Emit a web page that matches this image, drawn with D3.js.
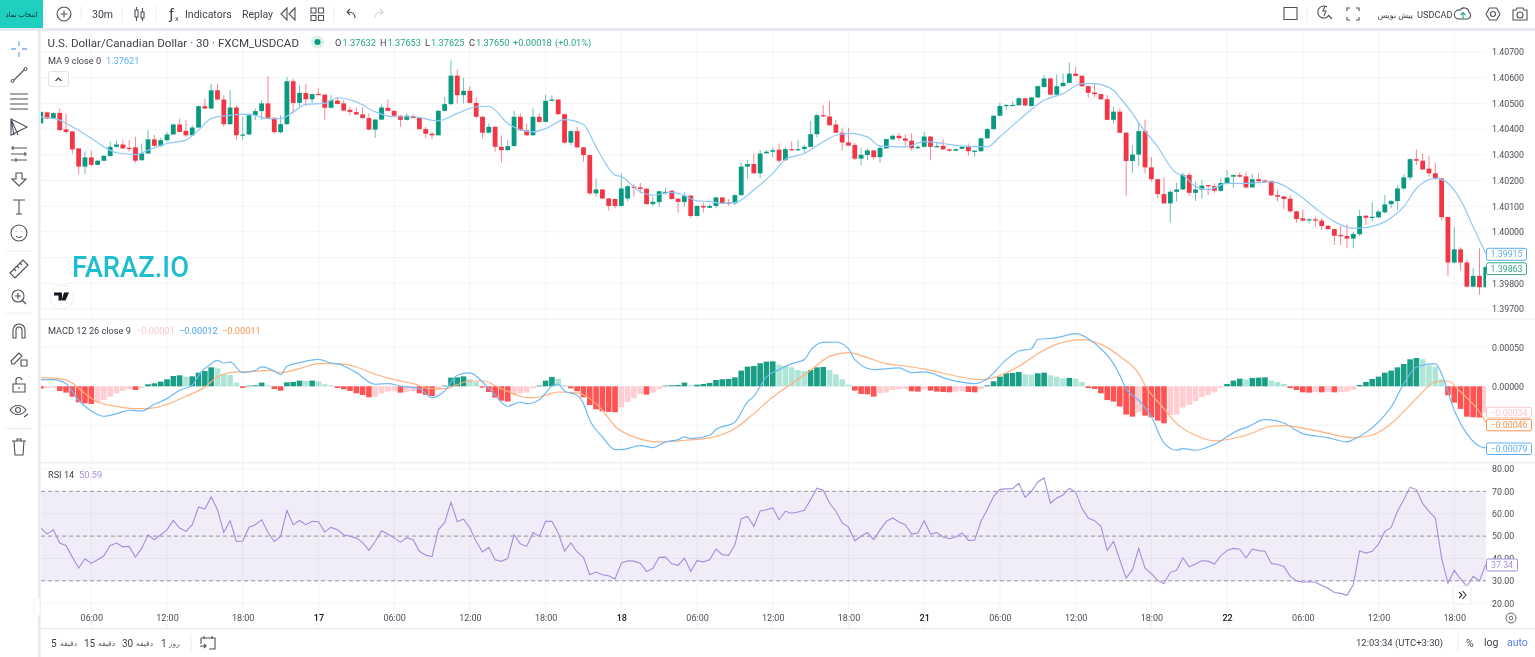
<!DOCTYPE html>
<html><head><meta charset="utf-8">
<script src="https://cdn.jsdelivr.net/npm/d3@7/dist/d3.min.js"></script>
<style>
html,body{margin:0;padding:0;background:#fff;overflow:hidden}
svg{display:block;filter:blur(0.35px)}
text{font-family:Roboto,"DejaVu Sans",sans-serif}
</style></head><body>
<svg id="chart" width="1535" height="657"></svg>
<script>
const opens=[1.40422,1.40465,1.40442,1.40463,1.40399,1.40391,1.40325,1.40254,1.40290,1.40261,1.40277,1.40295,1.40331,1.40340,1.40327,1.40329,1.40279,1.40305,1.40360,1.40335,1.40357,1.40379,1.40418,1.40393,1.40376,1.40406,1.40489,1.40480,1.40551,1.40515,1.40419,1.40484,1.40376,1.40379,1.40454,1.40470,1.40500,1.40444,1.40388,1.40419,1.40586,1.40502,1.40540,1.40516,1.40537,1.40534,1.40483,1.40511,1.40500,1.40475,1.40466,1.40457,1.40443,1.40398,1.40437,1.40483,1.40471,1.40452,1.40436,1.40450,1.40443,1.40400,1.40382,1.40376,1.40471,1.40497,1.40608,1.40532,1.40549,1.40502,1.40448,1.40386,1.40409,1.40331,1.40318,1.40334,1.40448,1.40395,1.40376,1.40448,1.40428,1.40510,1.40515,1.40458,1.40347,1.40392,1.40329,1.40299,1.40150,1.40165,1.40130,1.40128,1.40101,1.40130,1.40176,1.40173,1.40168,1.40108,1.40116,1.40152,1.40160,1.40129,1.40116,1.40141,1.40062,1.40101,1.40094,1.40101,1.40134,1.40114,1.40111,1.40143,1.40254,1.40264,1.40228,1.40306,1.40312,1.40320,1.40279,1.40322,1.40318,1.40323,1.40331,1.40380,1.40454,1.40449,1.40418,1.40386,1.40348,1.40338,1.40285,1.40299,1.40317,1.40291,1.40325,1.40360,1.40374,1.40364,1.40355,1.40326,1.40331,1.40371,1.40330,1.40335,1.40321,1.40316,1.40323,1.40331,1.40314,1.40314,1.40364,1.40400,1.40452,1.40493,1.40492,1.40493,1.40520,1.40490,1.40523,1.40564,1.40597,1.40534,1.40567,1.40580,1.40616,1.40607,1.40567,1.40542,1.40536,1.40516,1.40436,1.40468,1.40386,1.40276,1.40301,1.40392,1.40251,1.40205,1.40147,1.40111,1.40156,1.40165,1.40222,1.40152,1.40165,1.40182,1.40178,1.40160,1.40190,1.40215,1.40221,1.40216,1.40173,1.40205,1.40200,1.40198,1.40143,1.40138,1.40129,1.40080,1.40053,1.40046,1.40049,1.40044,1.40024,1.40011,1.39988,1.39984,1.39974,1.39991,1.40063,1.40055,1.40057,1.40076,1.40108,1.40120,1.40169,1.40212,1.40283,1.40277,1.40246,1.40228,1.40208,1.40058,1.39881,1.39932,1.39881,1.39787,1.39829,1.39785];
const highs=[1.40467,1.40468,1.40466,1.40480,1.40461,1.40391,1.40325,1.40312,1.40316,1.40280,1.40299,1.40351,1.40355,1.40357,1.40357,1.40370,1.40344,1.40396,1.40377,1.40367,1.40389,1.40422,1.40441,1.40435,1.40415,1.40492,1.40519,1.40577,1.40577,1.40532,1.40551,1.40493,1.40448,1.40456,1.40480,1.40512,1.40606,1.40446,1.40454,1.40603,1.40594,1.40571,1.40577,1.40538,1.40558,1.40536,1.40532,1.40525,1.40512,1.40487,1.40484,1.40484,1.40461,1.40439,1.40496,1.40515,1.40473,1.40454,1.40461,1.40458,1.40445,1.40409,1.40389,1.40474,1.40525,1.40668,1.40632,1.40600,1.40567,1.40523,1.40450,1.40422,1.40411,1.40376,1.40357,1.40471,1.40461,1.40422,1.40480,1.40461,1.40534,1.40532,1.40517,1.40460,1.40396,1.40409,1.40331,1.40301,1.40208,1.40167,1.40132,1.40130,1.40228,1.40182,1.40186,1.40191,1.40170,1.40137,1.40160,1.40173,1.40163,1.40131,1.40154,1.40143,1.40103,1.40114,1.40108,1.40137,1.40136,1.40127,1.40146,1.40269,1.40279,1.40305,1.40318,1.40318,1.40327,1.40344,1.40331,1.40351,1.40357,1.40338,1.40432,1.40461,1.40493,1.40509,1.40435,1.40405,1.40405,1.40347,1.40325,1.40325,1.40318,1.40338,1.40363,1.40379,1.40386,1.40379,1.40383,1.40338,1.40389,1.40373,1.40351,1.40360,1.40325,1.40325,1.40335,1.40344,1.40318,1.40366,1.40405,1.40454,1.40502,1.40496,1.40506,1.40525,1.40522,1.40525,1.40569,1.40611,1.40601,1.40613,1.40616,1.40659,1.40642,1.40611,1.40569,1.40577,1.40538,1.40532,1.40487,1.40480,1.40389,1.40338,1.40428,1.40437,1.40292,1.40207,1.40212,1.40163,1.40191,1.40230,1.40231,1.40195,1.40202,1.40184,1.40189,1.40208,1.40241,1.40225,1.40231,1.40234,1.40225,1.40228,1.40204,1.40200,1.40163,1.40140,1.40143,1.40082,1.40085,1.40053,1.40059,1.40053,1.40026,1.40014,1.40023,1.40029,1.40001,1.40085,1.40065,1.40115,1.40085,1.40143,1.40124,1.40182,1.40224,1.40286,1.40321,1.40305,1.40296,1.40269,1.40210,1.40060,1.40018,1.39940,1.39893,1.39859,1.39936,1.39866];
const lows=[1.40420,1.40439,1.40440,1.40393,1.40383,1.40303,1.40225,1.40225,1.40257,1.40259,1.40275,1.40293,1.40329,1.40322,1.40312,1.40269,1.40277,1.40303,1.40331,1.40329,1.40351,1.40377,1.40387,1.40370,1.40374,1.40404,1.40478,1.40478,1.40513,1.40409,1.40417,1.40357,1.40357,1.40377,1.40435,1.40435,1.40442,1.40383,1.40383,1.40417,1.40461,1.40487,1.40489,1.40500,1.40532,1.40437,1.40481,1.40496,1.40470,1.40454,1.40455,1.40441,1.40396,1.40367,1.40435,1.40469,1.40448,1.40409,1.40434,1.40441,1.40398,1.40364,1.40360,1.40374,1.40469,1.40495,1.40500,1.40500,1.40500,1.40441,1.40364,1.40384,1.40312,1.40270,1.40316,1.40332,1.40393,1.40374,1.40374,1.40426,1.40426,1.40508,1.40456,1.40344,1.40338,1.40325,1.40273,1.40143,1.40137,1.40127,1.40083,1.40092,1.40099,1.40118,1.40137,1.40150,1.40106,1.40101,1.40098,1.40143,1.40126,1.40075,1.40098,1.40054,1.40060,1.40075,1.40092,1.40092,1.40109,1.40101,1.40105,1.40141,1.40208,1.40226,1.40208,1.40304,1.40290,1.40269,1.40277,1.40316,1.40316,1.40308,1.40329,1.40367,1.40447,1.40413,1.40384,1.40316,1.40334,1.40279,1.40260,1.40279,1.40282,1.40269,1.40323,1.40355,1.40355,1.40331,1.40316,1.40321,1.40329,1.40279,1.40328,1.40319,1.40312,1.40314,1.40321,1.40296,1.40292,1.40312,1.40362,1.40398,1.40450,1.40474,1.40490,1.40491,1.40490,1.40488,1.40521,1.40562,1.40532,1.40532,1.40565,1.40578,1.40605,1.40565,1.40522,1.40525,1.40514,1.40434,1.40422,1.40383,1.40140,1.40230,1.40256,1.40228,1.40195,1.40130,1.40109,1.40036,1.40118,1.40163,1.40140,1.40120,1.40130,1.40143,1.40152,1.40156,1.40186,1.40172,1.40211,1.40169,1.40172,1.40191,1.40193,1.40140,1.40118,1.40089,1.40076,1.40036,1.40040,1.40033,1.40020,1.40007,1.40009,1.39949,1.39949,1.39936,1.39936,1.39984,1.40027,1.40040,1.40053,1.40072,1.40092,1.40085,1.40165,1.40202,1.40260,1.40241,1.40215,1.40202,1.40044,1.39829,1.39878,1.39849,1.39784,1.39784,1.39755,1.39783];
const closes=[1.40467,1.40441,1.40462,1.40396,1.40389,1.40321,1.40254,1.40290,1.40261,1.40277,1.40296,1.40331,1.40340,1.40325,1.40323,1.40277,1.40305,1.40360,1.40335,1.40357,1.40379,1.40418,1.40389,1.40376,1.40406,1.40489,1.40480,1.40551,1.40515,1.40419,1.40484,1.40376,1.40379,1.40454,1.40470,1.40500,1.40444,1.40388,1.40419,1.40586,1.40502,1.40541,1.40516,1.40536,1.40534,1.40483,1.40512,1.40498,1.40472,1.40467,1.40457,1.40443,1.40398,1.40437,1.40484,1.40471,1.40452,1.40436,1.40452,1.40443,1.40400,1.40382,1.40376,1.40471,1.40497,1.40608,1.40532,1.40549,1.40502,1.40448,1.40386,1.40409,1.40331,1.40318,1.40334,1.40448,1.40395,1.40376,1.40448,1.40428,1.40510,1.40515,1.40458,1.40347,1.40392,1.40329,1.40299,1.40150,1.40165,1.40130,1.40101,1.40101,1.40169,1.40178,1.40173,1.40167,1.40108,1.40117,1.40158,1.40156,1.40128,1.40117,1.40141,1.40062,1.40101,1.40095,1.40101,1.40134,1.40111,1.40110,1.40143,1.40254,1.40264,1.40228,1.40305,1.40312,1.40318,1.40277,1.40322,1.40318,1.40322,1.40331,1.40380,1.40454,1.40449,1.40415,1.40386,1.40348,1.40336,1.40285,1.40300,1.40317,1.40291,1.40327,1.40361,1.40374,1.40365,1.40355,1.40326,1.40331,1.40371,1.40331,1.40334,1.40321,1.40316,1.40322,1.40331,1.40314,1.40316,1.40364,1.40400,1.40452,1.40490,1.40494,1.40494,1.40520,1.40492,1.40523,1.40567,1.40597,1.40534,1.40567,1.40580,1.40616,1.40607,1.40567,1.40541,1.40536,1.40516,1.40436,1.40468,1.40386,1.40276,1.40301,1.40392,1.40251,1.40205,1.40147,1.40111,1.40156,1.40165,1.40222,1.40152,1.40165,1.40180,1.40178,1.40160,1.40190,1.40211,1.40221,1.40215,1.40173,1.40205,1.40197,1.40195,1.40142,1.40137,1.40128,1.40080,1.40050,1.40044,1.40049,1.40044,1.40023,1.40011,1.39985,1.39983,1.39974,1.39992,1.40062,1.40055,1.40059,1.40079,1.40107,1.40120,1.40169,1.40212,1.40283,1.40277,1.40243,1.40228,1.40208,1.40057,1.39881,1.39932,1.39881,1.39787,1.39829,1.39785,1.39863];
const maBars=[0,3,5,8,10,12,15,17,20,23,25,27,30,33,36,38,40,42,45,47,50,53,56,59,63,66,69,71,74,78,80,83,86,88,91,92,95,97,100,102,104,106,108,110,113,116,118,121,124,126,128,131,133,137,140,143,146,150,152,155,159,162,165,167,170,171,173,174,177,180,181,183,185,188,191,195,199,202,205,208,210,213,216,218,221,223,225,227,229];
const maValues=[1.40448,1.40435,1.40409,1.40364,1.40331,1.40308,1.40301,1.40318,1.40344,1.40357,1.40396,1.40441,1.40454,1.40458,1.40441,1.40441,1.40467,1.40496,1.40500,1.40522,1.40506,1.40467,1.40448,1.40448,1.40432,1.40461,1.40487,1.40489,1.40422,1.40389,1.40402,1.40437,1.40418,1.40331,1.40221,1.40215,1.40156,1.40143,1.40154,1.40141,1.40121,1.40118,1.40111,1.40114,1.40163,1.40228,1.40282,1.40305,1.40351,1.40376,1.40383,1.40370,1.40334,1.40331,1.40351,1.40344,1.40334,1.40331,1.40370,1.40435,1.40512,1.40538,1.40577,1.40577,1.40551,1.40523,1.40461,1.40424,1.40331,1.40228,1.40221,1.40176,1.40165,1.40189,1.40189,1.40195,1.40150,1.40092,1.40040,1.40014,1.40017,1.40040,1.40098,1.40169,1.40208,1.40189,1.40124,1.40020,1.39915];
// MACD pane values are in millionths of a price unit
const histogramMicro=[-30,-26,-17,-60,-81,-132,-205,-218,-226,-209,-175,-132,-90,-60,-38,-47,-21,26,38,60,90,132,141,124,128,175,196,243,231,154,145,47,-21,9,13,47,13,-34,-56,51,56,73,68,73,64,26,13,-21,-38,-60,-90,-111,-141,-137,-90,-68,-64,-81,-73,-64,-90,-111,-124,-47,9,111,115,128,90,56,-17,-73,-145,-184,-196,-98,-90,-81,-26,9,73,120,98,17,-26,-64,-141,-239,-295,-320,-329,-333,-269,-201,-154,-98,-107,-81,-38,9,13,17,47,13,21,30,43,81,90,94,115,201,252,260,295,316,320,278,260,243,209,196,209,243,248,209,154,90,21,-56,-98,-102,-132,-90,-81,-47,-38,-34,-64,-68,-38,-56,-68,-73,-77,-68,-64,-73,-77,-38,13,64,124,167,171,184,154,149,167,175,141,124,102,107,98,56,-21,-34,-90,-175,-196,-260,-363,-389,-329,-376,-397,-440,-474,-367,-363,-273,-239,-188,-141,-111,-77,-17,30,73,98,90,107,111,115,73,56,30,-21,-47,-77,-81,-73,-77,-73,-77,-73,-68,-47,17,56,94,124,175,201,243,286,346,363,346,269,252,90,-115,-209,-290,-389,-397,-401,-337];
const macdBars=[0,2,4,6,8,10,12,14,16,18,20,22,24,25,27,28,29,30,32,34,35,37,38,39,41,44,46,47,50,53,55,57,60,62,64,66,68,70,72,74,76,77,79,80,81,82,83,85,86,87,89,91,92,95,97,99,101,102,103,106,107,110,112,113,115,117,119,121,122,124,126,128,129,132,136,138,140,144,148,150,153,155,157,158,161,164,166,168,170,171,172,174,176,178,180,181,183,186,190,191,194,197,200,204,207,208,212,214,216,218,221,222,224,226,228,229];
const macdMicro=[85,85,34,-179,-316,-384,-350,-307,-316,-231,-158,-51,13,141,290,333,299,312,175,205,248,196,149,256,303,346,299,290,175,26,34,4,-30,-145,-60,141,171,56,-115,-256,-201,-222,-171,-85,4,26,-60,-115,-222,-436,-649,-811,-811,-760,-786,-713,-683,-649,-670,-628,-555,-457,-200,-128,120,214,290,342,461,564,568,482,342,214,235,175,184,85,34,98,342,453,482,600,623,675,611,482,290,141,-30,-179,-393,-726,-820,-798,-820,-743,-555,-529,-427,-470,-606,-658,-713,-683,-457,-265,34,248,290,162,-307,-606,-769,-790];
const signalBars=[0,3,5,7,9,12,15,17,20,23,26,28,31,34,36,38,41,44,47,50,53,56,59,62,64,68,70,73,76,78,80,82,85,87,89,91,94,98,102,106,110,113,116,119,122,125,128,131,134,137,141,145,149,151,155,158,161,165,168,171,174,175,178,180,183,186,191,195,197,203,208,211,214,218,221,223,225,228,229];
const signalMicro=[111,98,43,-94,-201,-256,-286,-286,-231,-128,-9,120,184,192,205,175,226,290,290,248,154,85,34,-30,-30,68,68,-30,-128,-149,-115,-73,-85,-158,-307,-512,-649,-713,-692,-662,-542,-350,-137,34,205,384,431,367,290,260,205,132,85,111,256,418,538,598,538,384,162,13,-286,-478,-628,-700,-628,-512,-504,-585,-658,-628,-478,-158,56,68,-73,-329,-460];
const rsiValues=[53.6,51.0,52.8,46.9,45.8,40.6,35.7,39.9,37.8,39.4,41.2,45.8,46.9,45.2,45.4,40.6,44.6,50.6,48.4,50.6,52.8,57.0,53.6,52.1,55.1,63.0,62.1,67.5,61.8,51.6,56.9,47.6,47.8,54.0,55.1,57.3,51.6,47.6,49.9,61.5,55.1,57.0,55.1,56.6,56.4,51.9,53.9,52.8,50.6,49.9,49.1,47.2,43.6,47.6,52.4,50.9,49.1,47.3,49.3,48.4,43.2,41.5,40.8,52.8,56.1,65.1,56.4,57.6,53.6,47.6,42.9,45.0,39.4,38.7,40.0,50.6,46.6,45.4,51.6,49.9,56.6,56.6,51.4,43.3,46.9,42.9,40.5,32.7,33.9,32.7,32.3,30.8,37.9,39.0,38.8,37.9,34.1,35.6,40.5,40.6,37.6,36.9,40.2,34.2,39.0,38.5,39.4,44.2,41.7,41.4,46.1,57.8,58.8,54.4,61.2,61.8,62.6,57.3,61.1,60.2,60.8,61.5,66.3,71.4,70.5,64.8,61.1,55.9,54.0,47.9,49.9,51.6,48.4,52.8,56.6,58.1,56.3,55.1,50.9,51.4,56.9,50.9,51.6,49.6,48.8,49.6,51.4,48.1,48.2,56.6,61.8,67.8,70.9,71.1,71.2,73.6,67.3,70.0,74.2,76.0,64.7,67.0,68.4,71.4,69.7,62.4,58.1,56.9,54.4,43.6,47.6,39.4,31.2,35.0,44.5,35.7,33.2,30.2,28.7,33.8,34.7,40.3,36.3,37.5,39.0,38.8,37.5,41.2,43.6,44.5,44.1,40.3,44.2,43.5,43.2,37.8,37.3,36.4,32.0,30.0,29.4,29.6,29.4,27.9,26.7,24.8,24.4,23.5,28.2,43.5,42.4,43.2,46.4,52.1,53.9,61.1,66.3,71.8,70.8,64.5,61.1,58.1,40.2,29.0,34.7,30.8,27.5,32.0,30.0,37.34];
const priceTicks=[1.407,1.406,1.405,1.404,1.403,1.402,1.401,1.4,1.399,1.398,1.397];
const priceLabelTicks=[1.407,1.406,1.405,1.404,1.403,1.402,1.401,1.4,1.398,1.397];
const macdTicks=[500,0,-500];
const rsiTicks=[80,70,60,50,40,30,20];
const rsiLevels=[70,50,30];
const timeTickBars=[8,20,32,44,56,68,80,92,104,116,128,140,152,164,176,188,200,212,224];
const timeTickLabels=["06:00","12:00","18:00","17","06:00","12:00","18:00","18","06:00","12:00","18:00","21","06:00","12:00","18:00","22","06:00","12:00","18:00"];

const GREEN="#089981",RED="#f23645",TXT="#4a4d57",GRID="#f3f4f7";
const svg=d3.select("#chart");
const barCount=opens.length;
const x=d3.scaleLinear().domain([0,barCount-1]).range([40.8,1485.8]);
const yPrice=d3.scaleLinear().domain([1.397,1.407]).range([309,52]);
const yMacd=d3.scaleLinear().domain([-500,500]).range([425.3,347.3]);
const yRsi=d3.scaleLinear().domain([20,80]).range([603.2,469]);
const L=41,R=1486;

svg.append("defs").selectAll("clipPath").data([["c1",31,287],["c2",320,142],["c3",464,140]]).join("clipPath")
  .attr("id",d=>d[0]).append("rect").attr("x",L).attr("y",d=>d[1]).attr("width",R-L).attr("height",d=>d[2]);

// separators
const sep=svg.append("g").attr("fill","#e6e8ef");
sep.append("rect").attr("x",0).attr("y",28).attr("width",1535).attr("height",3);
sep.append("rect").attr("x",38).attr("y",31).attr("width",2.5).attr("height",626);
sep.append("rect").attr("x",41).attr("y",318.3).attr("width",1494).attr("height",1.4).attr("fill","#eef0f4");
sep.append("rect").attr("x",41).attr("y",462).attr("width",1494).attr("height",1.6).attr("fill","#eef0f4");
sep.append("rect").attr("x",41).attr("y",628).attr("width",1494).attr("height",1.2);

// grid
const grid=svg.append("g").attr("stroke",GRID).attr("stroke-width",1);
function hGrid(vals,scale){grid.selectAll(null).data(vals).join("line").attr("x1",L).attr("x2",R).attr("y1",d=>scale(d)).attr("y2",d=>scale(d));}
hGrid(priceTicks,yPrice);hGrid(macdTicks,yMacd);hGrid(rsiTicks,yRsi);
grid.selectAll(null).data(timeTickBars).join("line").attr("x1",d=>x(d)).attr("x2",d=>x(d)).attr("y1",31).attr("y2",628);

// main pane
const main=svg.append("g").attr("clip-path","url(#c1)");
const idx=d3.range(barCount);
const up=i=>closes[i]>=opens[i];
main.selectAll("line.w").data(idx).join("line").attr("class","w")
  .attr("x1",x).attr("x2",x).attr("y1",i=>yPrice(highs[i])).attr("y2",i=>yPrice(lows[i]))
  .attr("stroke",i=>up(i)?GREEN:RED).attr("stroke-width",1).attr("opacity",.6);
main.selectAll("rect.b").data(idx).join("rect").attr("class","b")
  .attr("x",i=>x(i)-2.4).attr("width",4.8)
  .attr("y",i=>yPrice(Math.max(opens[i],closes[i])))
  .attr("height",i=>Math.max(1.2,Math.abs(yPrice(opens[i])-yPrice(closes[i]))))
  .attr("fill",i=>up(i)?GREEN:RED);
const smooth=d3.curveMonotoneX;
main.append("path").attr("fill","none").attr("stroke","#90c8f5").attr("stroke-width",1.2)
  .attr("d",d3.line().x((d,i)=>x(maBars[i])).y(d=>yPrice(d)).curve(smooth)(maValues));

// MACD pane
const macd=svg.append("g").attr("clip-path","url(#c2)");
function histColor(i){const v=histogramMicro[i],p=i?histogramMicro[i-1]:0;
  return v>=0?(v>p?"#1a9e85":"#ade5d6"):(v<p?"#ff5252":"#ffcdd2");}
macd.selectAll("rect").data(idx).join("rect")
  .attr("x",i=>x(i)-2.8).attr("width",5.6)
  .attr("y",i=>Math.min(yMacd(0),yMacd(histogramMicro[i])))
  .attr("height",i=>Math.abs(yMacd(0)-yMacd(histogramMicro[i])))
  .attr("fill",histColor);
macd.append("path").attr("fill","none").attr("stroke","#ffb27d").attr("stroke-width",1.2)
  .attr("d",d3.line().x((d,i)=>x(signalBars[i])).y(d=>yMacd(d)).curve(smooth)(signalMicro));
macd.append("path").attr("fill","none").attr("stroke","#6fb9f5").attr("stroke-width",1.2)
  .attr("d",d3.line().x((d,i)=>x(macdBars[i])).y(d=>yMacd(d)).curve(smooth)(macdMicro));

// RSI pane
const rsi=svg.append("g").attr("clip-path","url(#c3)");
rsi.append("rect").attr("x",L).attr("width",R-L).attr("y",yRsi(70)).attr("height",yRsi(30)-yRsi(70)).attr("fill","#7e57c2").attr("opacity",.11);
rsi.selectAll("line").data(rsiLevels).join("line").attr("x1",L).attr("x2",R).attr("y1",yRsi).attr("y2",yRsi)
  .attr("stroke","#787b86").attr("stroke-dasharray","4 3").attr("stroke-width",1).attr("stroke-opacity",.75);
rsi.append("path").attr("fill","none").attr("stroke","#a68ddb").attr("stroke-width",1.1)
  .attr("d",d3.line().x((d,i)=>x(i)).y(d=>yRsi(d))(rsiValues));

// axes
function styleAxis(g){g.select(".domain").remove();g.selectAll("line").remove();
  g.selectAll("text").attr("fill",TXT).attr("font-size",8.8);}
const uminus=s=>s.replace("-","\u2212");
svg.append("g").attr("transform","translate(1486,0)")
  .call(d3.axisRight(yPrice).tickValues(priceLabelTicks).tickFormat(d3.format(".5f")).tickPadding(6).tickSize(0)).call(styleAxis);
svg.append("g").attr("transform","translate(1486,0)")
  .call(d3.axisRight(yMacd).tickValues(macdTicks.slice(0,2)).tickFormat(d=>d3.format(".5f")(d/1e6)).tickPadding(6).tickSize(0)).call(styleAxis);
svg.append("g").attr("transform","translate(1486,0)")
  .call(d3.axisRight(yRsi).tickValues(rsiTicks).tickFormat(d3.format(".2f")).tickPadding(6).tickSize(0)).call(styleAxis);
const xAxis=svg.append("g").attr("transform","translate(0,614.5)")
  .call(d3.axisBottom(x).tickValues(timeTickBars).tickFormat((d,i)=>timeTickLabels[i]).tickPadding(0).tickSize(0)).call(styleAxis);
xAxis.selectAll("text").attr("font-size",9).attr("fill",(d,i)=>timeTickLabels[i].length<3?"#131722":TXT)
  .attr("font-weight",(d,i)=>timeTickLabels[i].length<3?500:400);

// last value tags
function tag(text,y0,h,w,color,fill){
  const g=svg.append("g");
  g.append("rect").attr("x",1486.5).attr("y",y0).attr("width",w).attr("height",h).attr("rx",1.5).attr("fill",fill||"#fff").attr("stroke",color).attr("stroke-width",1);
  g.append("text").attr("x",1486.5+w/2).attr("y",y0+h/2+3.1).attr("text-anchor","middle").attr("font-size",8.8).attr("fill",color).text(text);
}
const lastHist=histogramMicro[barCount-1],lastMacd=macdMicro[macdMicro.length-1],lastSig=signalMicro[signalMicro.length-1];
const f5=v=>uminus(d3.format(".5f")(Math.round(v/10)/1e5));
tag(d3.format(".5f")(maValues[maValues.length-1]),248.3,12,40,"#5eb0f5");
tag(d3.format(".5f")(closes[barCount-1]),262.8,11.8,40,"#3aa58f");
tag(f5(lastHist),407.3,10.5,45,"#fcc7cb");
tag(f5(lastSig),419.3,11.5,45,"#f7934f");
tag(f5(lastMacd),443,11.5,45,"#5eb0f5");
tag(d3.format(".2f")(rsiValues[barCount-1]),559,12,31,"#a68ddb");

// legends
function t(x0,y0,s,fill,size,extra){const e=svg.append("text").attr("x",x0).attr("y",y0).attr("fill",fill||TXT).attr("font-size",size||10).text(s);
  if(extra)for(const k in extra)e.attr(k,extra[k]);return e;}
const LG="#26a48d";
t(47.5,46.5,"U.S. Dollar/Canadian Dollar · 30 · FXCM_USDCAD","#3e414b",11,{textLength:251.5,lengthAdjust:"spacingAndGlyphs"});
svg.append("circle").attr("cx",317.5).attr("cy",42).attr("r",6.5).attr("fill","#d9f1ec");
svg.append("circle").attr("cx",317.5).attr("cy",42).attr("r",3).attr("fill",GREEN);
[["O",335,"#3e414b"],["1.37632",342.5,LG],["H",380,"#3e414b"],["1.37653",387.5,LG],["L",425,"#3e414b"],["1.37625",431,LG],["C",469,"#3e414b"],["1.37650",476,LG],["+0.00018",513,LG],["(+0.01%)",555,LG]]
  .forEach(d=>t(d[1],46,d[0],d[2],9.2));
t(48,63.5,"MA 9 close 0","#3e414b",9.2);t(106,63.5,"1.37621","#5eb0f5",9.2);
t(48,333.5,"MACD 12 26 close 9","#3e414b",9.2);t(136,333.5,"\u22120.00001","#fcc7cb",9.2);t(179,333.5,"\u22120.00012","#4ba3f0",9.2);t(222,333.5,"\u22120.00011","#f7934f",9.2);
t(48,478,"RSI 14","#3e414b",9.2);t(79,478,"50.59","#a68ddb",9.2);
t(72,277,"FARAZ.IO","#1fbdd0",29,{textLength:117,lengthAdjust:"spacingAndGlyphs","font-family":"'Open Sans'","font-weight":500});

// widgets
svg.append("rect").attr("x",48.5).attr("y",71.5).attr("width",20).attr("height",15).attr("rx",2).attr("fill","#fff").attr("stroke","#e0e3eb");
svg.append("path").attr("d","M55.5 81l3-3 3 3").attr("fill","none").attr("stroke","#444").attr("stroke-width",1.2);
svg.append("circle").attr("cx",62).attr("cy",297).attr("r",12).attr("fill","#fff").attr("stroke","#eceef2");
svg.append("path").attr("d","M54 292.5h8v8h-3.5v-5H54zM64 292.5l-2.5 8h4l3.5-8z").attr("fill","#131722");
svg.append("rect").attr("x",1453).attr("y",586).attr("width",18).attr("height",18).attr("rx",2).attr("fill","#fff").attr("stroke","#eceef2");
svg.append("path").attr("d","M1459 592l3 3-3 3M1462.5 591l3.5 4-3.5 4").attr("fill","none").attr("stroke","#333").attr("stroke-width",1.1);
svg.append("rect").attr("x",34).attr("y",598).attr("width",6).attr("height",18).attr("rx",2).attr("fill","#fff").attr("stroke","#eef0f4");
svg.append("circle").attr("cx",1511).attr("cy",618).attr("r",5).attr("fill","none").attr("stroke","#666");
svg.append("circle").attr("cx",1511).attr("cy",618).attr("r",1.8).attr("fill","none").attr("stroke","#666");

// top bar
svg.append("rect").attr("x",0).attr("y",0).attr("width",43).attr("height",28).attr("fill","#1fcfbf");
t(21.5,17,"انتخاب نماد","#10302c",7,{"text-anchor":"middle","font-family":"'DejaVu Sans'"});
const sepG=svg.append("g").attr("stroke","#eceef2");
[[46,6,22],[81,6,22],[122,6,22],[156,6,22],[334,6,22],[1307,6,22],[1458,634,652],[191,634,652]].forEach(d=>sepG.append("line").attr("x1",d[0]).attr("x2",d[0]).attr("y1",d[1]).attr("y2",d[2]));
const ICON="#4d505a";
function ic(dx,dy,d,color,w){svg.append("path").attr("transform",`translate(${dx},${dy})`).attr("d",d).attr("fill","none").attr("stroke",color||ICON).attr("stroke-width",w||1.1);}
ic(64,14,"M-7 0a7 7 0 1 0 14 0a7 7 0 1 0-14 0M-3.5 0h7M0-3.5v7");
t(92,18,"30m","#3e414b",10.5);
ic(139,14,"M-4-4h3v7h-3zM-2.5-7v3M-2.5 3v4M2-2h3v6h-3zM3.5-6v4M3.5 4v3");
t(169,19,"ƒ","#3e414b",15);t(175,21,"x","#3e414b",7);
t(185,18,"Indicators","#3e414b",10.5);t(242,18,"Replay","#3e414b",10.5);
ic(288,14,"M-1-6l-6 6 6 6zM7-6l-6 6 6 6z");
ic(317,14,"M-6-6h5v5h-5zM1.5-6h5v5h-5zM-6 1.5h5v5h-5zM1.5 1.5h5v5h-5z");
ic(351,14,"M4 4c0-5-3-6-8-6M-1-5l-3 3 3 3");
ic(379,14,"M-4 4c0-5 3-6 8-6M1-5l3 3-3 3","#d4d6dc");
ic(1290.5,14,"M-6.5-6.5h13v12h-13z");
ic(1324,13,"M3-6a6 6 0 1 0 2 8M4 2l4 4M1-7l-2 5h3l-2 5");
ic(1353,14,"M-6-3v-3h3M3-6h3v3M-6 3v3h3M6 3v3h-3");
t(1417,18,"USDCAD","#3e414b",9.2);
t(1413,18,"پیش نویس","#3e414b",8,{"text-anchor":"end","font-family":"'DejaVu Sans'"});
ic(1463,14,"M-5 5h10a4 4 0 0 0 1-7a5 5 0 0 0-9-2a4 4 0 0 0-2 9z");
ic(1463,14,"M0 5v-6M-2.5 1l2.5-2.5 2.5 2.5","#26a48d");
ic(1493,14,"M-7 0l3.5-6h7l3.5 6-3.5 6h-7zM-2.5 0a2.5 2.5 0 1 0 5 0a2.5 2.5 0 1 0-5 0");
ic(1520,14,"M-7-4h3l1-2h6l1 2h3v10h-14zM-3 1a3 3 0 1 0 6 0a3 3 0 1 0-6 0");

// left toolbar
ic(19,49,"M0-8v5M0 3v5M-8 0h5M3 0h5","#7aa7ee",1.3);
ic(19,75,"M-7 7L7-7","#4d505a");svg.append("circle").attr("cx",12.5).attr("cy",81).attr("r",1.5).attr("fill","#fff").attr("stroke",ICON);svg.append("circle").attr("cx",25.5).attr("cy",69).attr("r",1.5).attr("fill","#fff").attr("stroke",ICON);
ic(19,101,"M-9-7h18M-9-2h18M-9 3h18M-9 8h18");
ic(19,127,"M-8-8L8 0-8 8zM-8-8L-1 8M-8-8l3 16");
ic(19,154,"M-8-6h16M-8 0h16M-8 6h16M-6-8v4M6-2v4M-3 4v4");
ic(19,180,"M-3-7h6v6h4l-7 7-7-7h4z");
ic(19,207,"M-6-7H6M0-7V7M-3 7h6");
ic(19,233,"M-8 0a8 8 0 1 0 16 0a8 8 0 1 0-16 0M-3 3c1.5 2 4.5 2 6 0M-3-2v.5M3-2v.5");
sepG.selectAll(null).data([251,313,428.6]).join("line").attr("x1",6).attr("x2",32).attr("y1",d=>d).attr("y2",d=>d);
ic(19,269,"M-9 4L4-9 9-4-4 9zM-5 0l2 2M-2-3l2 2M1-6l2 2");
ic(18,296,"M-6 0a6 6 0 1 0 12 0a6 6 0 1 0-12 0M4 4l4 4M-3 0h6M0-3v6");
ic(19,331,"M-6 7V-1a6 6 0 0 1 12 0v8h-3V-1a3 3 0 0 0-6 0v8z");
ic(18,358,"M-6 6l-1-3 8-8 3 3-8 8zM3 2h6v6h-6z");
ic(19,385,"M-6-1h12v8h-12zM-3-1v-3a3 3 0 0 1 6-1M-1 3h2");
ic(18,410,"M-8 0c4-6 12-6 16 0c-4 6-12 6-16 0zM-2.5 0a2.5 2.5 0 1 0 5 0a2.5 2.5 0 1 0-5 0M6 7l4-3");
ic(19,447,"M-7-6h14M-5-6l1 14h8l1-14M-2-6v-2h4v2");

// bottom bar
const PERIOD="#3e414b";
[[51,"5",60,"دقیقه"],[84,"15",98,"دقیقه"],[122,"30",136,"دقیقه"],[161,"1",169,"روز"]].forEach(d=>{
  t(d[0],646.5,d[1],PERIOD,10);
  t(d[2],646,d[3],"#5a5d67",7.5,{"font-family":"'DejaVu Sans'"});
});
ic(208,643,"M-7-5h14v11h-6M-7 1v-6M-4-7v3M4-7v3M-8 3h6M-4 1l2 2-2 2");
t(1356,646,"12:03:34 (UTC+3:30)",PERIOD,9.5);
t(1466,647,"%",PERIOD,10.5);t(1484,646,"log",PERIOD,10.5);t(1507,646,"auto","#5b7be8",10.5);
</script>
</body></html>
